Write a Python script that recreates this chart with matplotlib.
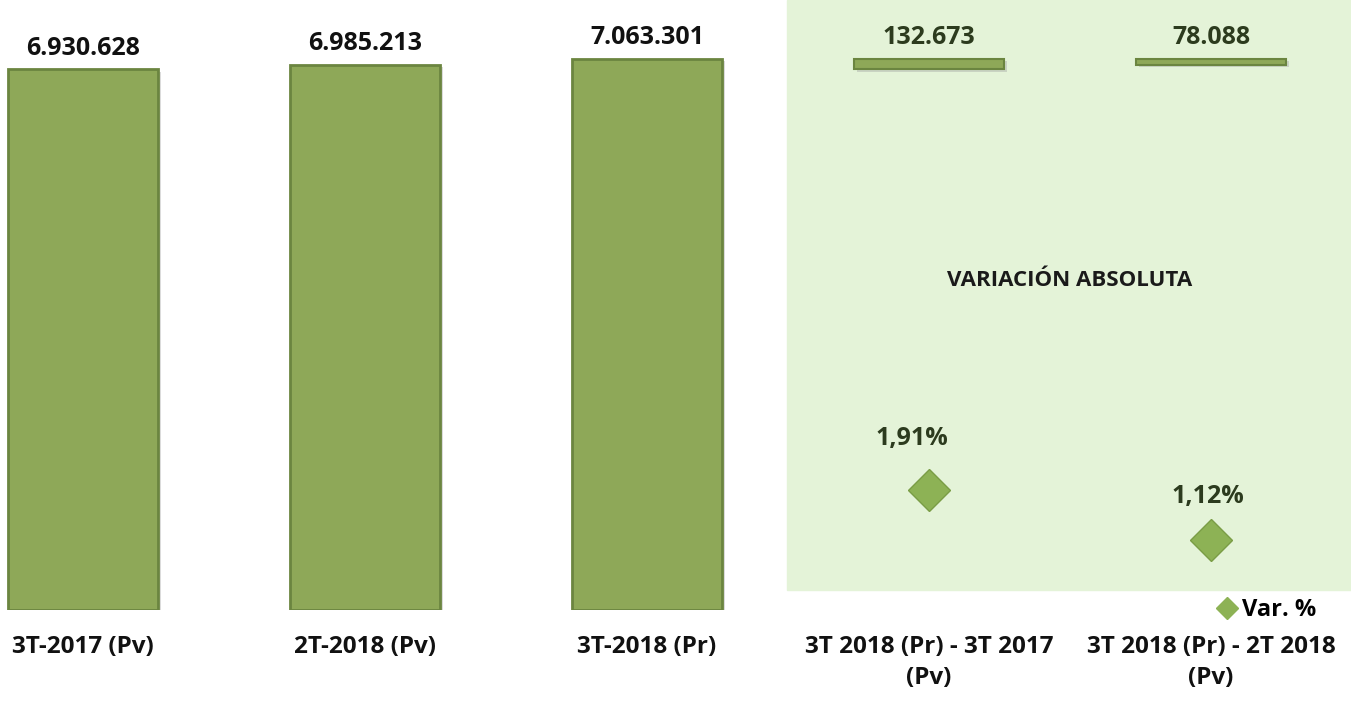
import matplotlib.pyplot as plt
import matplotlib.patheffects as pe
from matplotlib.patches import Rectangle
from matplotlib.lines import Line2D

plt.rcParams['font.family'] = ['Open Sans', 'DejaVu Sans']

# quarterly totals
categories = ['3T-2017 (Pv)', '2T-2018 (Pv)', '3T-2018 (Pr)',
              '3T 2018 (Pr) - 3T 2017\n(Pv)', '3T 2018 (Pr) - 2T 2018\n(Pv)']
totals = [6930628, 6985213, 7063301]
# absolute variation, drawn as floating bars ending at the latest total
var_abs = [132673, 78088]
var_base = [6930628, 6985213]
var_pct = [1.91, 1.12]

bar_color = '#8ea858'
edge_color = '#6b8540'
panel_color = '#e4f3d8'
dark_green = '#2c3b1e'
shadow = [pe.SimplePatchShadow(offset=(2, -2), shadow_rgbFace='#999999', alpha=0.35), pe.Normal()]


def fmt_thousands(v):
    return f'{v:,}'.replace(',', '.')


fig = plt.figure(figsize=(13.51, 7.02), dpi=100)

# shaded area behind the variation columns
fig.patches.append(Rectangle((787 / 1351, 1 - 590 / 702), 564 / 1351, 590 / 702,
                             transform=fig.transFigure, color=panel_color, zorder=-1))

ax = fig.add_axes([0, 92 / 702, 1, 610 / 702])
ax.patch.set_alpha(0)
ax.set_xlim(-83 / 282, (1351 - 83) / 282)
ax.set_ylim(0, 7814000)

x_tot = [0, 1, 2]
x_var = [3, 4]
w = 150 / 282
bars = ax.bar(x_tot, totals, width=w, color=bar_color, edgecolor=edge_color, linewidth=2, zorder=3)
vbars = ax.bar(x_var, var_abs, bottom=var_base, width=w, color=bar_color,
               edgecolor=edge_color, linewidth=1.5, zorder=3)
for b in list(bars) + list(vbars):
    b.set_path_effects(shadow)

for x, v in zip(x_tot, totals):
    ax.annotate(fmt_thousands(v), (x, v), xytext=(0, 6), textcoords='offset points',
                ha='center', va='bottom', fontsize=18, fontweight='bold', color='#111111')
for x, b, v in zip(x_var, var_base, var_abs):
    ax.annotate(fmt_thousands(v), (x, b + v), xytext=(0, 6), textcoords='offset points',
                ha='center', va='bottom', fontsize=18, fontweight='bold', color=dark_green)

ax.set_xticks(range(len(categories)))
ax.set_xticklabels(categories, fontsize=17.5, fontweight='bold', color='#111111',
                   linespacing=1.4)
ax.tick_params(axis='x', length=0, pad=18)
ax.set_yticks([])
for s in ax.spines.values():
    s.set_visible(False)

# percentage variation on its own scale
ax2 = ax.twinx()
ax2.set_ylim(0, 9.71)
ax2.plot(x_var, var_pct, linestyle='none', marker='D', markersize=21,
         color='#8db255', markeredgecolor='#7a9d46', zorder=4)
for x, p, dx, dy in zip(x_var, var_pct, [-12, -2], [28, 22]):
    ax2.annotate(f'{p:.2f}%'.replace('.', ','), (x, p), xytext=(dx, dy),
                 textcoords='offset points', ha='center', va='bottom',
                 fontsize=18, fontweight='bold', color=dark_green)
ax2.set_yticks([])
for s in ax2.spines.values():
    s.set_visible(False)

fig.text(1070 / 1351, 1 - 280 / 702, 'VARIACIÓN ABSOLUTA', ha='center', va='center',
         fontsize=16, fontweight='bold', color='#1a1a1a')

handle = Line2D([], [], linestyle='none', marker='D', markersize=11, color='#8db255')
fig.legend([handle], ['Var. %'], loc='center right', bbox_to_anchor=(1328 / 1351, 1 - 610 / 702),
           frameon=False, handletextpad=0.2, prop={'size': 17, 'weight': 'bold'},
           borderpad=0, handlelength=0.9)

fig.savefig('out.png', dpi=100)
